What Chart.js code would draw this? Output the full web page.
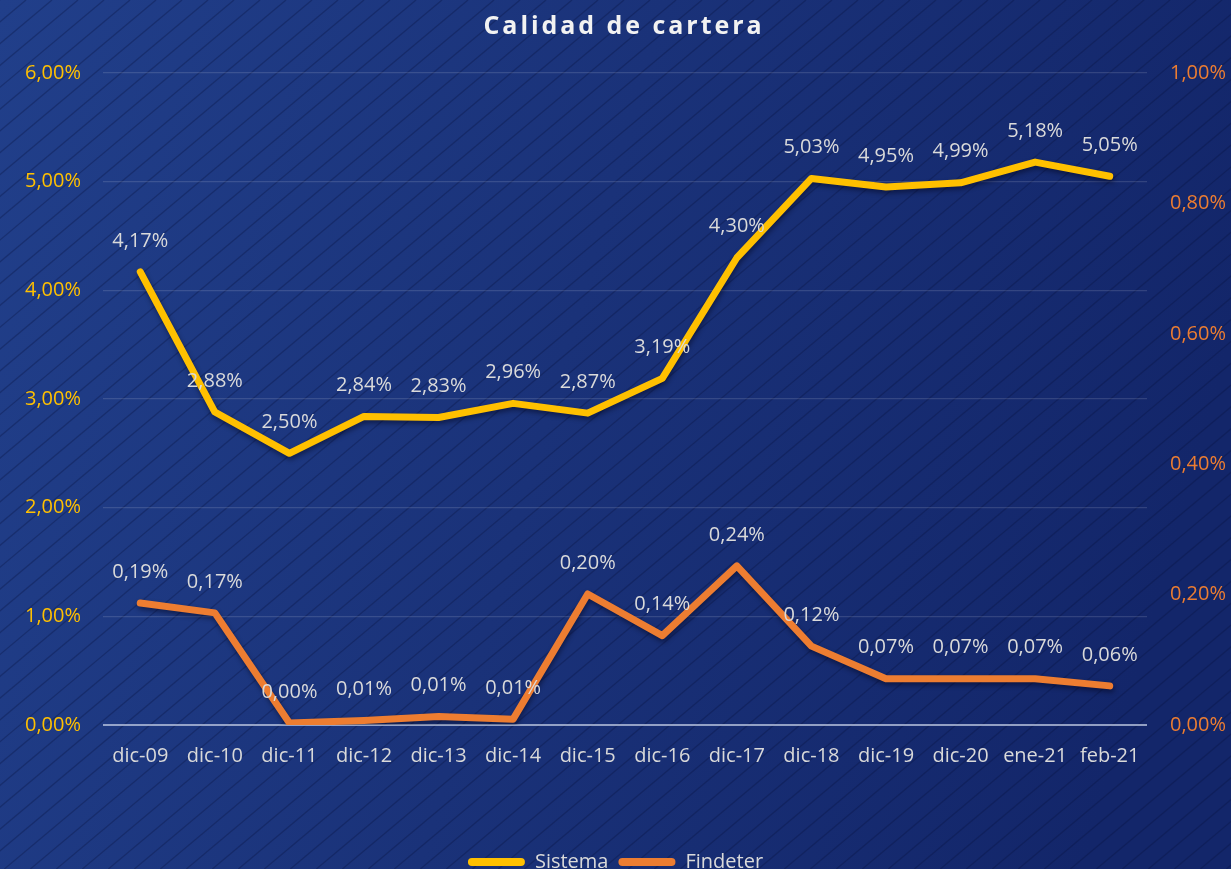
<!DOCTYPE html>
<html>
<head>
<meta charset="utf-8">
<script src="https://cdn.jsdelivr.net/npm/chart.js@4.4.1/dist/chart.umd.min.js"></script>
<style>
  html, body { margin: 0; padding: 0; background: #1a3278; }
  #wrap { width: 1231px; height: 869px; position: relative; }
</style>
</head>
<body>
<div id="wrap"><canvas id="c" width="1231" height="869"></canvas></div>
<script>
const categories = ['dic-09','dic-10','dic-11','dic-12','dic-13','dic-14','dic-15','dic-16','dic-17','dic-18','dic-19','dic-20','ene-21','feb-21'];
const sistema = [4.17, 2.88, 2.50, 2.84, 2.83, 2.96, 2.87, 3.19, 4.30, 5.03, 4.95, 4.99, 5.18, 5.05];
const findeter = [0.187, 0.172, 0.003, 0.007, 0.013, 0.009, 0.201, 0.137, 0.244, 0.121, 0.071, 0.071, 0.071, 0.060];
const leftTicks = [0, 1, 2, 3, 4, 5, 6];
const rightTicks = [0, 0.2, 0.4, 0.6, 0.8, 1.0];
const titleText = 'Calidad de cartera';

const fmt = v => v.toFixed(2).replace('.', ',') + '%';
const FONT = '"Open Sans", "Noto Sans", sans-serif';

const bgPlugin = {
  id: 'bg',
  beforeDraw(chart) {
    const {ctx, width, height} = chart;
    ctx.save();
    const g = ctx.createLinearGradient(0, 0, width, height * 0.4);
    g.addColorStop(0, '#213f8a');
    g.addColorStop(0.5, '#1a3279');
    g.addColorStop(1, '#13266a');
    ctx.fillStyle = g;
    ctx.fillRect(0, 0, width, height);
    ctx.strokeStyle = 'rgba(8,18,62,0.32)';
    ctx.lineWidth = 1.3;
    const slope = Math.tan(40 * Math.PI / 180);
    const rise = height;
    const run = rise / slope;
    for (let x = -run; x < width + 40; x += 26) {
      ctx.beginPath();
      ctx.moveTo(x, height);
      ctx.lineTo(x + run, 0);
      ctx.stroke();
    }
    ctx.restore();
    // title
    ctx.save();
    ctx.font = 'bold 25px ' + FONT;
    ctx.fillStyle = '#f2f2f2';
    ctx.textAlign = 'center';
    ctx.textBaseline = 'alphabetic';
    try { ctx.letterSpacing = '2.95px'; } catch (e) {}
    ctx.fillText(titleText, 624, 34);
    ctx.restore();
  }
};

const shadowPlugin = {
  id: 'lineShadow',
  beforeDatasetDraw(chart) {
    const ctx = chart.ctx;
    ctx.save();
    ctx.shadowColor = 'rgba(0,0,20,0.45)';
    ctx.shadowBlur = 5;
    ctx.shadowOffsetX = 1;
    ctx.shadowOffsetY = 3;
  },
  afterDatasetDraw(chart) {
    chart.ctx.restore();
  }
};

const labelPlugin = {
  id: 'dataLabels',
  afterDatasetsDraw(chart) {
    const ctx = chart.ctx;
    ctx.save();
    ctx.font = '20px ' + FONT;
    ctx.fillStyle = '#dadada';
    ctx.textAlign = 'center';
    ctx.textBaseline = 'middle';
    chart.data.datasets.forEach((ds, i) => {
      const meta = chart.getDatasetMeta(i);
      meta.data.forEach((pt, j) => {
        ctx.fillText(fmt(ds.data[j]), pt.x, pt.y - 31);
      });
    });
    ctx.restore();
  }
};

new Chart(document.getElementById('c'), {
  type: 'line',
  data: {
    labels: categories,
    datasets: [
      {
        label: 'Sistema',
        data: sistema,
        yAxisID: 'y',
        borderColor: '#FFC000',
        backgroundColor: '#FFC000',
        borderWidth: 7,
        pointRadius: 0,
        tension: 0,
        borderJoinStyle: 'round',
        borderCapStyle: 'round'
      },
      {
        label: 'Findeter',
        data: findeter,
        yAxisID: 'y1',
        borderColor: '#ED7D31',
        backgroundColor: '#ED7D31',
        borderWidth: 7,
        pointRadius: 0,
        tension: 0,
        borderJoinStyle: 'round',
        borderCapStyle: 'round'
      }
    ]
  },
  options: {
    responsive: false,
    animation: false,
    devicePixelRatio: 1,
    layout: { padding: { top: 73, bottom: -13, left: 0, right: 0 } },
    plugins: {
      title: { display: false },
      tooltip: { enabled: false },
      legend: {
        position: 'bottom',
        labels: {
          color: '#dadada',
          font: { size: 20, family: FONT },
          boxWidth: 57,
          boxHeight: 8,
          padding: 10,
          useBorderRadius: true,
          borderRadius: 4,
          generateLabels(chart) {
            return chart.data.datasets.map((ds, i) => ({
              text: ds.label,
              fillStyle: ds.borderColor,
              strokeStyle: ds.borderColor,
              lineWidth: 0,
              fontColor: '#dadada',
              hidden: false,
              datasetIndex: i,
              borderRadius: 4
            }));
          }
        }
      }
    },
    scales: {
      x: {
        offset: true,
        grid: { display: false, drawTicks: false },
        border: { display: false },
        ticks: { color: '#d9d9d9', font: { size: 20, family: FONT }, padding: 19, maxRotation: 0, autoSkip: false },
        afterFit(s) { s.height = 117; }
      },
      y: {
        position: 'left',
        min: 0, max: 6,
        afterBuildTicks(s) { s.ticks = leftTicks.map(v => ({ value: v })); },
        ticks: { color: '#FFC000', font: { size: 20, family: FONT }, padding: 22, callback: v => fmt(v) },
        grid: {
          drawTicks: false,
          color: c => c.tick && c.tick.value === 0 ? 'rgba(190,200,225,0.75)' : 'rgba(255,255,255,0.13)',
          lineWidth: c => c.tick && c.tick.value === 0 ? 2 : 1.2
        },
        border: { display: false },
        afterFit(s) { s.width = 103; }
      },
      y1: {
        position: 'right',
        min: 0, max: 1,
        afterBuildTicks(s) { s.ticks = rightTicks.map(v => ({ value: v })); },
        ticks: { color: '#ED7D31', font: { size: 20, family: FONT }, padding: 23, callback: v => fmt(v) },
        grid: { display: false, drawTicks: false },
        border: { display: false },
        afterFit(s) { s.width = 84; }
      }
    }
  },
  plugins: [bgPlugin, shadowPlugin, labelPlugin]
});
</script>
</body>
</html>
